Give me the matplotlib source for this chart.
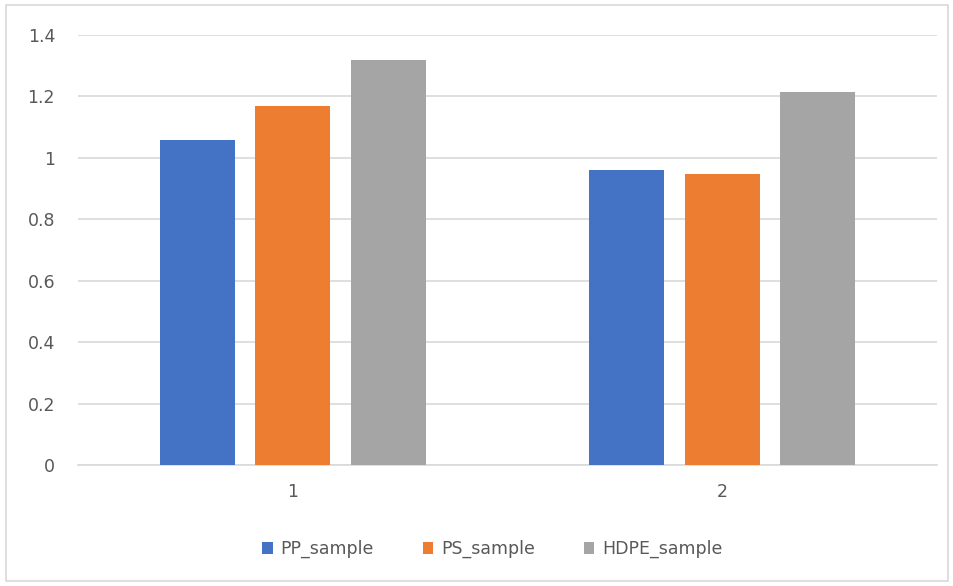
import numpy as np
import matplotlib.pyplot as plt
from matplotlib.patches import Rectangle

categories = ["1", "2"]
series_names = ["PP_sample", "PS_sample", "HDPE_sample"]
pp_values = [1.057, 0.961]
ps_values = [1.168, 0.947]
hdpe_values = [1.318, 1.214]
colors = ["#4472C4", "#ED7D31", "#A5A5A5"]

W, H = 954, 586
fig = plt.figure(figsize=(W / 100, H / 100), dpi=100)
ax = fig.add_axes([78 / W, 1 - 465 / H, (937 - 78) / W, (465 - 35) / H])

# outer chart frame
fig.patches.append(Rectangle((6 / W, 5 / H), (W - 12) / W, (H - 10) / H,
                             transform=fig.transFigure, fill=False,
                             edgecolor="#d9d9d9", linewidth=1.2))

x = np.arange(1, len(categories) + 1)
width = 0.175
step = 0.222
for i, (vals, name) in enumerate(zip([pp_values, ps_values, hdpe_values], series_names)):
    ax.bar(x + (i - 1) * step, vals, width, color=colors[i], label=name, zorder=3)

ax.set_xlim(0.5, 2.5)
ax.set_ylim(0, 1.4)
ax.set_yticks(np.arange(0, 1.41, 0.2))
ax.set_yticklabels(["0", "0.2", "0.4", "0.6", "0.8", "1", "1.2", "1.4"])
ax.set_xticks(x)
ax.set_xticklabels(categories)
ax.grid(axis="y", color="#d9d9d9", linewidth=1.2, zorder=0)
for s in ax.spines.values():
    s.set_visible(False)
ax.spines["bottom"].set_visible(True)
ax.spines["bottom"].set_color("#d9d9d9")
ax.spines["bottom"].set_linewidth(1.2)
ax.tick_params(axis="both", length=0, colors="#595959", labelsize=12.5)
ax.tick_params(axis="y", pad=16.5)
ax.tick_params(axis="x", pad=13)

leg = fig.legend(loc="center", bbox_to_anchor=(0.516, 1 - 549 / H), ncol=3,
                 frameon=False, fontsize=12.5, handlelength=0.62, handleheight=0.7,
                 handletextpad=0.45, columnspacing=2.8)
for t in leg.get_texts():
    t.set_color("#595959")

fig.savefig("out.png", dpi=100)
